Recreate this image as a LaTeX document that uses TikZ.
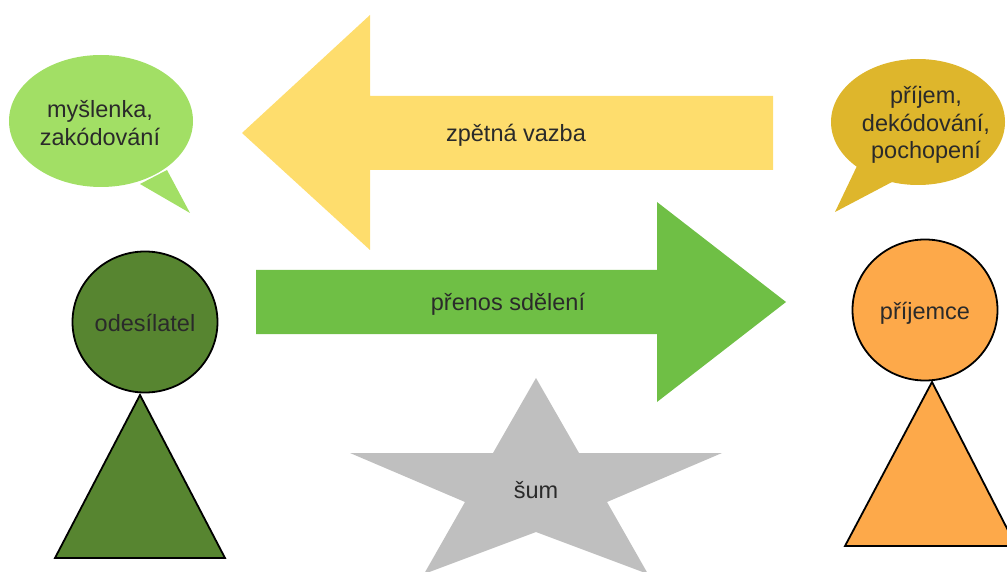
\documentclass[tikz,border=0pt]{standalone}
\usepackage{fontspec}
\setmainfont{Liberation Sans}
\usetikzlibrary{shapes.geometric}
\definecolor{thoughtgreen}{HTML}{A2DF65}
\definecolor{thoughtgold}{HTML}{DEB62C}
\definecolor{feedbackyellow}{HTML}{FEDD6D}
\definecolor{messagegreen}{HTML}{6FBF45}
\definecolor{sendergreen}{HTML}{578530}
\definecolor{receiverorange}{HTML}{FDA94A}
\definecolor{noisegrey}{HTML}{BFBFBF}
\definecolor{textdark}{HTML}{2A2A2A}
\begin{document}
\begin{tikzpicture}[x=1pt,y=-1pt,
  txt/.style={font=\fontsize{23.5}{27.5}\selectfont, text=textdark, align=center, inner sep=0pt},
  person/.style={draw=black, line width=1.8pt, line join=miter},
  head/.style={person, ellipse, inner sep=0pt, minimum width=145pt, minimum height=141pt}]
\clip (0,0) rectangle (1007,572);

% speech bubbles
\fill[thoughtgreen] (101,121) ellipse [x radius=92pt, y radius=66pt];
\fill[thoughtgreen] (167,170) -- (190,213) -- (140,184) -- cycle;
\fill[thoughtgold] (918,122) ellipse [x radius=87pt, y radius=63pt];
\fill[thoughtgold] (857,166) -- (835,212) -- (892,182) -- cycle;

% feedback arrow (right to left)
\fill[feedbackyellow] (242,133) -- (370,15) -- (370,96) -- (773,96) -- (773,170) -- (370,170) -- (370,250) -- cycle;

% message arrow (left to right)
\fill[messagegreen] (256,270) -- (657,270) -- (657,202) -- (786,302) -- (657,402) -- (657,334) -- (256,334) -- cycle;

% noise star
\fill[noisegrey] (536,378) -- (579,453) -- (722,453) -- (607,502) -- (648,574) -- (536,532)
  -- (424,574) -- (465,502) -- (350,453) -- (493,453) -- cycle;

% sender figure
\filldraw[person, fill=sendergreen] (140,395) -- (225,558) -- (55,558) -- cycle;
\node[head, fill=sendergreen] (sender) at (145,322) {};

% receiver figure
\filldraw[person, fill=receiverorange] (932,382) -- (1016,546) -- (845,546) -- cycle;
\node[head, fill=receiverorange] (receiver) at (925,310) {};

% texts
\node[txt] (thoughttext) at (100,123) {myšlenka,\\zakódování};
\node[txt] (understandtext) at (926,125) {příjem,\\dekódování,\\pochopení};
\node[txt] (feedbacktext) at (516,135) {zpětná vazba};
\node[txt] (messagetext) at (508,304) {přenos sdělení};
\node[txt] (noisetext) at (536,490) {šum};
\node[txt] (sendertext) at ([yshift=-1pt]sender.center) {odesílatel};
\node[txt] (receivertext) at ([yshift=-3pt]receiver.center) {příjemce};
\end{tikzpicture}
\end{document}
